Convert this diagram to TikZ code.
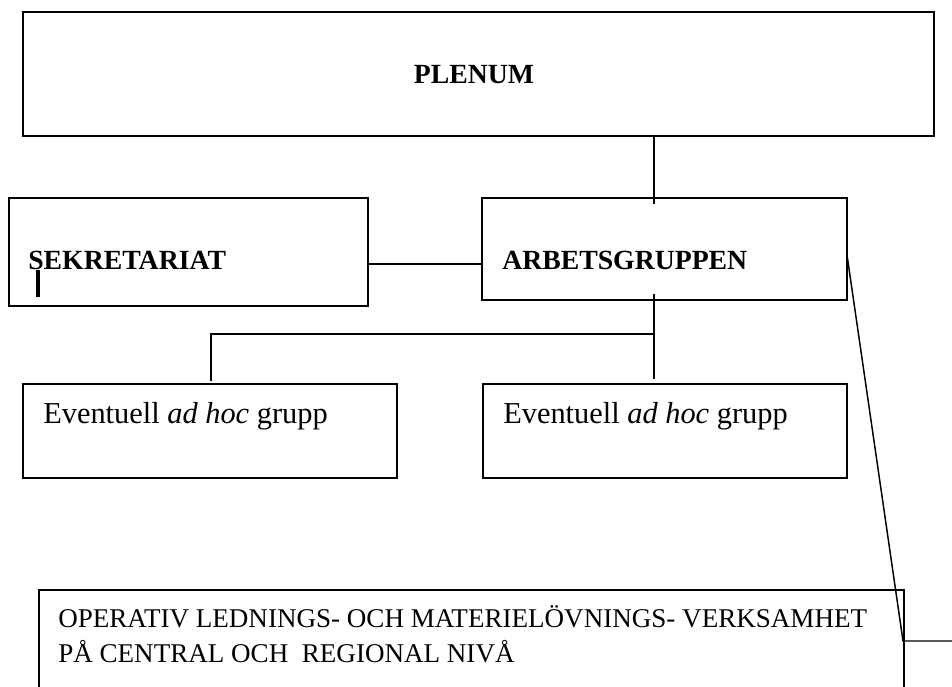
\documentclass[tikz,border=0pt]{standalone}
\usepackage{fontspec}
\setmainfont{Liberation Serif}
\usetikzlibrary{fit}

\tikzset{
  box/.style={draw, line width=1.4pt, inner sep=0pt, outer sep=0pt},
  link/.style={draw, line width=1.1pt},
  boldtext/.style={anchor=base west, inner sep=0pt, font=\fontsize{20.8}{24}\selectfont\bfseries},
  grouptext/.style={anchor=base west, inner sep=0pt, font=\fontsize{22.8}{27}\selectfont},
  optext/.style={anchor=base west, inner sep=0pt, font=\fontsize{20.3}{26}\selectfont},
}

\begin{document}
\begin{tikzpicture}[x=0.75pt,y=-0.75pt]

      \useasboundingbox (0,0) rectangle (952,686);

      % boxes
      \node[box, fit={(23,12) (934,136)}]   (plenum) {};
      \node[box, fit={(9,198) (368,306)}]   (sekr)   {};
      \node[box, fit={(482,198) (847,300)}] (arbet)  {};
      \node[box, fit={(23,384) (397,478)}]  (adhoc1) {};
      \node[box, fit={(483,384) (847,478)}] (adhoc2) {};
      \node[box, fit={(39,590) (904,720)}]  (oper)   {};

      % texts
      \node[boldtext, anchor=base] (plenumlabel) at (474,83) {PLENUM};
      \node[boldtext]  (sekrlabel)   at (28,269)  {SEKRETARIAT};
      \node[boldtext]  (arbetlabel)  at (502,269) {ARBETSGRUPPEN};
      \node[grouptext] (adhoc1label) at (43,423)  {Eventuell \textit{ad hoc} grupp};
      \node[grouptext] (adhoc2label) at (503,423) {Eventuell \textit{ad hoc} grupp};
      \node[optext]    (oper1)       at (58,627)  {OPERATIV LEDNINGS- OCH MATERIELÖVNINGS- VERKSAMHET};
      \node[optext]    (oper2)       at (58,662)  {PÅ CENTRAL OCH\ \ REGIONAL NIVÅ};

      % cursor mark
      \draw[line width=2.4pt] (38,270) -- (38,297);

      % connectors
      \coordinate (top)   at (654,204);
      \coordinate (mid)   at (0,264);
      \coordinate (fork)  at (654,294);
      \coordinate (split) at (654,334);
      \coordinate (drop1) at (211,381);
      \coordinate (drop2) at (654,379);
      \coordinate (side)  at (0,255);
      \coordinate (knee)  at (903,641);
      \coordinate (exit)  at (952,641);

      \draw[link] (plenum.south -| top) -- (top);
      \draw[link] (sekr.east |- mid) -- (arbet.west |- mid);
      \draw[link] (fork) -- (drop2);
      \draw[link] (split) -| (drop1);
      \draw[link] (arbet.east |- side) -- (knee) -- (exit);

\end{tikzpicture}
\end{document}
